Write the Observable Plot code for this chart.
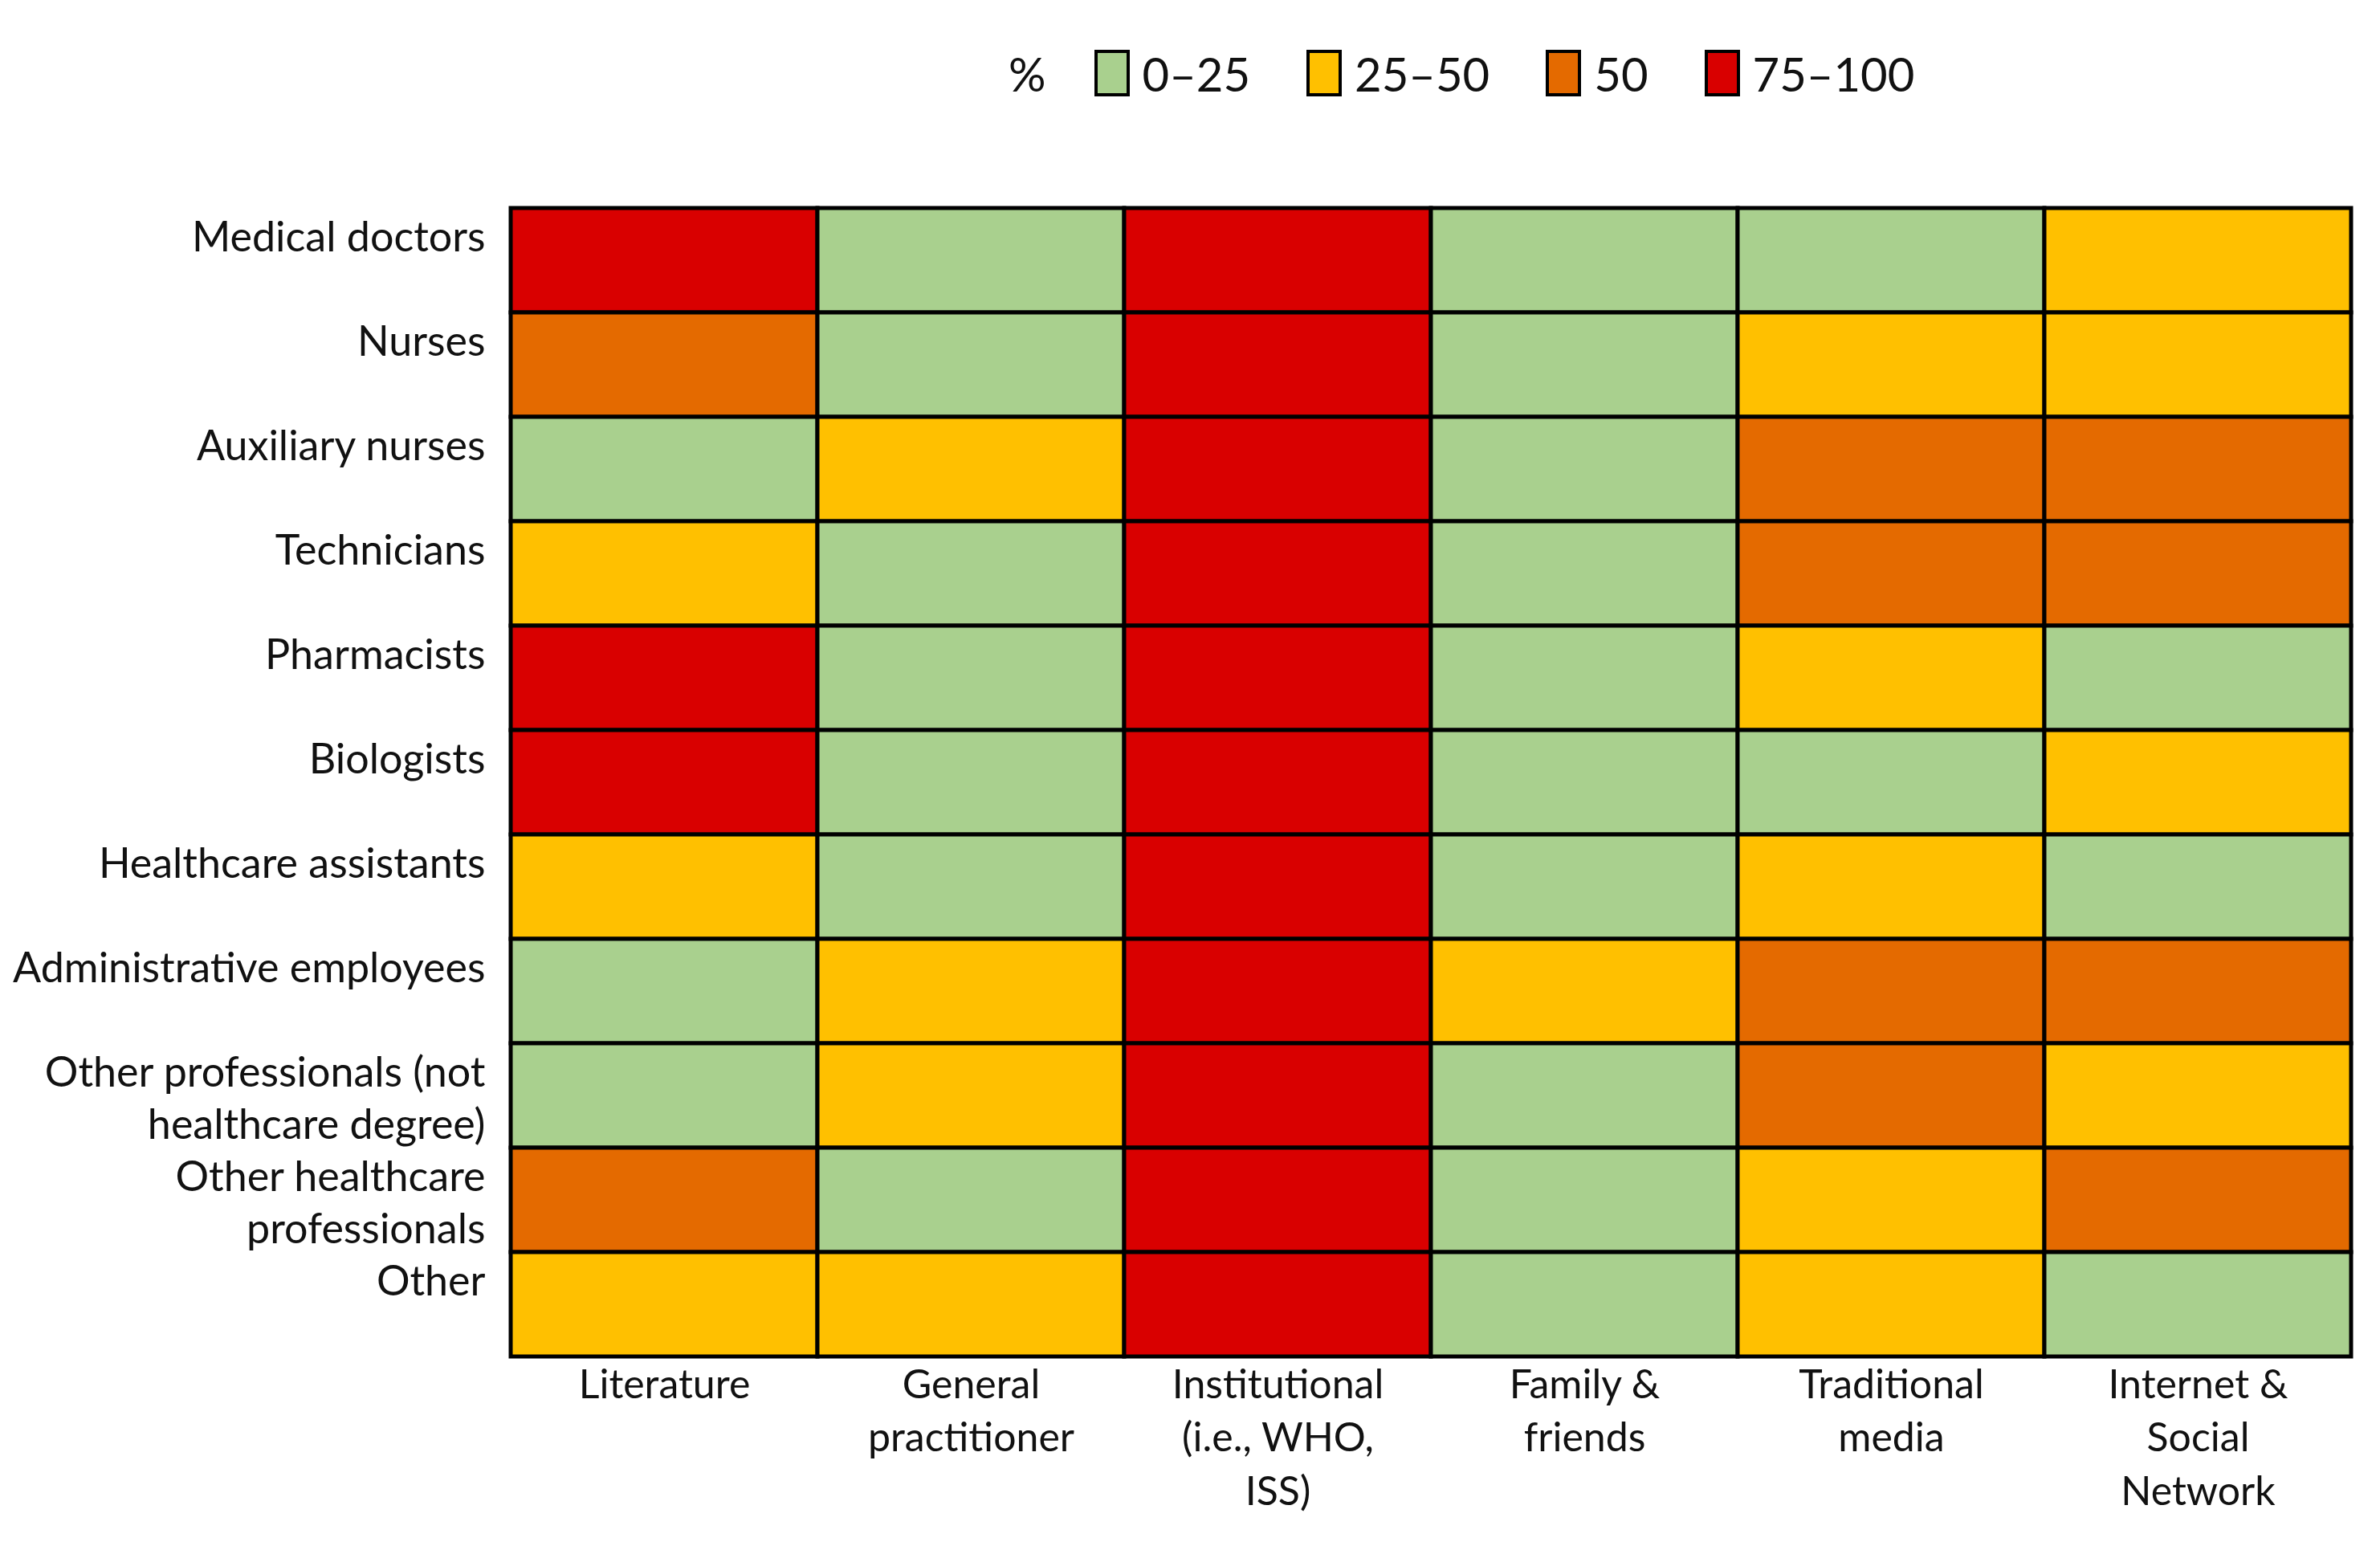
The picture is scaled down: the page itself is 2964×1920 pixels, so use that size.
<!DOCTYPE html>
<html>
<head>
<meta charset="utf-8">
<script src="https://cdn.jsdelivr.net/npm/d3@7"></script>
<script src="https://cdn.jsdelivr.net/npm/@observablehq/plot@0.6"></script>
<style>
  html, body { margin: 0; padding: 0; background: #fff; }
  body { width: 2964px; height: 1920px; position: relative; font-family: Lato, "Open Sans", sans-serif; }
  #legend { position: absolute; left: 1256px; top: 91px; transform: translateY(-50%); display: flex; align-items: center; font-size: 58px; color: #111; height: 200px; }
  #legend .pct { margin-right: 60px; }
  #legend .sw { width: 44px; height: 58px; box-sizing: border-box; border: 4px solid #000; margin-right: 16px; }
  #legend .lab { margin-right: 70px; }
  #top { height: 200px; }
  #chart { position: absolute; left: 0; top: 200px; }
</style>
</head>
<body>
<div id="top"></div>
<div id="legend"></div>
<div id="chart"></div>
<script>
const roles = [
  "Medical doctors", "Nurses", "Auxiliary nurses", "Technicians", "Pharmacists",
  "Biologists", "Healthcare assistants", "Administrative employees",
  "Other professionals (not healthcare degree)", "Other healthcare professionals", "Other"
];
const roleLabels = [
  "Medical doctors", "Nurses", "Auxiliary nurses", "Technicians", "Pharmacists",
  "Biologists", "Healthcare assistants", "Administrative employees",
  "Other professionals (not\nhealthcare degree)", "Other healthcare\nprofessionals", "Other"
];
const sources = [
  "Literature", "General practitioner", "Institutional (i.e., WHO, ISS)",
  "Family & friends", "Traditional media", "Internet & Social Network"
];
const sourceLabels = [
  "Literature", "General\npractitioner", "Institutional\n(i.e., WHO,\nISS)",
  "Family &\nfriends", "Traditional\nmedia", "Internet &\nSocial\nNetwork"
];
const classes = ["0–25", "25–50", "50", "75–100"];
const classColors = ["#a9d08e", "#ffc000", "#e46a00", "#d90000"];

// one array per source (column), in role order
const literature    = ["75–100", "50", "0–25", "25–50", "75–100", "75–100", "25–50", "0–25", "0–25", "50", "25–50"];
const generalPract  = ["0–25", "0–25", "25–50", "0–25", "0–25", "0–25", "0–25", "25–50", "25–50", "0–25", "25–50"];
const institutional = ["75–100", "75–100", "75–100", "75–100", "75–100", "75–100", "75–100", "75–100", "75–100", "75–100", "75–100"];
const familyFriends = ["0–25", "0–25", "0–25", "0–25", "0–25", "0–25", "0–25", "25–50", "0–25", "0–25", "0–25"];
const tradMedia     = ["0–25", "25–50", "50", "50", "25–50", "0–25", "25–50", "50", "50", "25–50", "25–50"];
const internetSN    = ["25–50", "25–50", "50", "50", "0–25", "25–50", "0–25", "50", "25–50", "50", "0–25"];

const seriesBySource = [literature, generalPract, institutional, familyFriends, tradMedia, internetSN];

const table = [];
sources.forEach((s, i) => {
  seriesBySource[i].forEach((v, j) => table.push({source: s, role: roles[j], cls: v}));
});

const roleLabel = new Map(roles.map((r, i) => [r, roleLabels[i]]));
const sourceLabel = new Map(sources.map((s, i) => [s, sourceLabels[i]]));
const singleRoles = roles.filter(r => !roleLabel.get(r).includes("\n"));
const multiRoles = roles.filter(r => roleLabel.get(r).includes("\n"));

// legend
const leg = document.getElementById("legend");
const pct = document.createElement("span");
pct.className = "pct"; pct.textContent = "%";
leg.appendChild(pct);
classes.forEach((c, i) => {
  const sw = document.createElement("span");
  sw.className = "sw"; sw.style.background = classColors[i];
  const lb = document.createElement("span");
  lb.className = "lab"; lb.textContent = c;
  leg.appendChild(sw); leg.appendChild(lb);
});

const chart = Plot.plot({
  width: 2964,
  height: 1720,
  marginTop: 56,
  marginBottom: 229,
  marginLeft: 636,
  marginRight: 36,
  style: {fontFamily: "Lato, 'Open Sans', sans-serif", color: "#111", background: "#fff"},
  x: {domain: sources, padding: 0, label: null},
  y: {domain: roles, padding: 0, label: null},
  color: {domain: classes, range: classColors},
  marks: [
    Plot.cell(table, {x: "source", y: "role", fill: "cls", stroke: "#000", strokeWidth: 5, inset: 0}),
    Plot.axisX({
      tickSize: 0, tickPadding: 2, fontSize: 50, lineHeight: 1.33,
      tickFormat: d => sourceLabel.get(d), label: null
    }),
    Plot.axisY(singleRoles, {
      tickSize: 0, tickPadding: 32, fontSize: 52, dy: -28,
      tickFormat: d => roleLabel.get(d), label: null
    }),
    Plot.axisY(multiRoles, {
      tickSize: 0, tickPadding: 32, fontSize: 52, lineHeight: 1.26,
      tickFormat: d => roleLabel.get(d), label: null
    })
  ]
});
document.getElementById("chart").appendChild(chart);
</script>
</body>
</html>
